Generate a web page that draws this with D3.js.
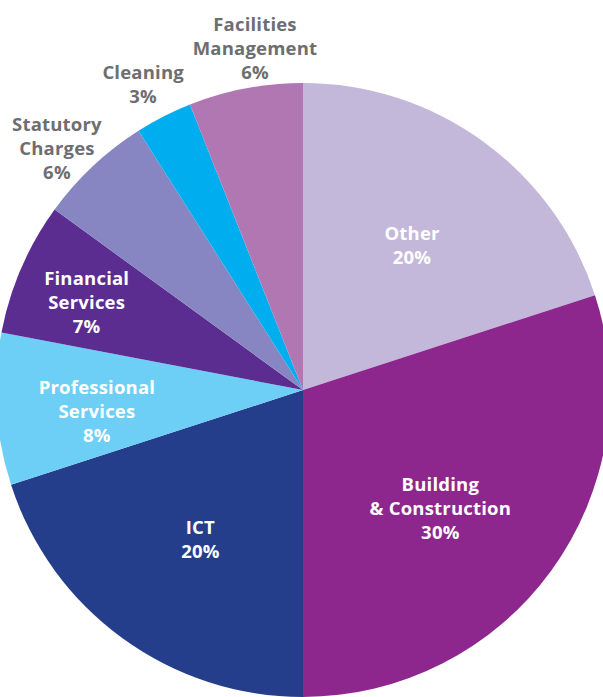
<!DOCTYPE html>
<html>
<head>
<meta charset="utf-8">
<script src="https://cdn.jsdelivr.net/npm/d3@7"></script>
<style>
  body { margin: 0; background: #fff; }
  svg { display: block; }
</style>
</head>
<body>
<svg width="603" height="697"></svg>
<script>
// spend breakdown, clockwise from 12 o'clock
var categories = ["Other", "Building|& Construction", "ICT", "Professional|Services",
                  "Financial|Services", "Statutory|Charges", "Cleaning", "Facilities|Management"];
var shares = [20, 30, 20, 8, 7, 6, 3, 6];
var colours = ["#c4b8da", "#8e278d", "#253e8b", "#6dcff6", "#5c2d91", "#8786c2", "#00aeef", "#b077b2"];

var svg = d3.select("svg"),
    width = +svg.attr("width"),
    height = +svg.attr("height");

var radius = 307;
var cx = 303, cy = 390;

var data = categories.map(function(c, i) {
    return { name: c, value: shares[i], colour: colours[i] };
});

var pie = d3.pie()
    .sort(null)
    .value(function(d) { return d.value; });

var arc = d3.arc()
    .innerRadius(0)
    .outerRadius(radius);

var g = svg.append("g")
    .attr("transform", "translate(" + cx + "," + cy + ")");

var arcs = pie(data);

g.selectAll("path")
    .data(arcs)
    .enter().append("path")
    .attr("d", arc)
    .attr("fill", function(d) { return d.data.colour; });

// small slices get their label outside the pie, in grey
function isOutside(d) { return d.data.value <= 6; }

function labelRadius(d) {
    if (isOutside(d)) return radius + 38;
    if (d.data.value >= 20) return radius * 0.59;
    return radius * (0.675 + (8 - d.data.value) * 0.085);
}

// hand nudges (degrees) so labels sit like the original layout
var labelNudge = [1, 4.7, -1.5, -2.4, -1.4, -2.3, -0.6, 2.8];

var lineHeight = 24;

var labels = g.selectAll("text")
    .data(arcs)
    .enter().append("text")
    .attr("text-anchor", "middle")
    .attr("font-family", "'Open Sans', sans-serif")
    .attr("font-weight", 700)
    .attr("font-size", "18.5px")
    .attr("letter-spacing", "0.2px")
    .attr("fill", function(d) { return isOutside(d) ? "#6d6e71" : "#ffffff"; })
    .attr("transform", function(d) {
        var a = (d.startAngle + d.endAngle) / 2 + labelNudge[d.index] * Math.PI / 180;
        var r = labelRadius(d);
        return "translate(" + (r * Math.sin(a)) + "," + (-r * Math.cos(a)) + ")";
    });

labels.each(function(d) {
    var lines = d.data.name.split("|").concat([d.data.value + "%"]);
    var t = d3.select(this);
    var y0 = -(lines.length - 1) * lineHeight / 2;
    lines.forEach(function(l, i) {
        t.append("tspan")
            .attr("x", 0)
            .attr("y", y0 + i * lineHeight)
            .attr("dy", "0.35em")
            .text(l);
    });
});
</script>
</body>
</html>
